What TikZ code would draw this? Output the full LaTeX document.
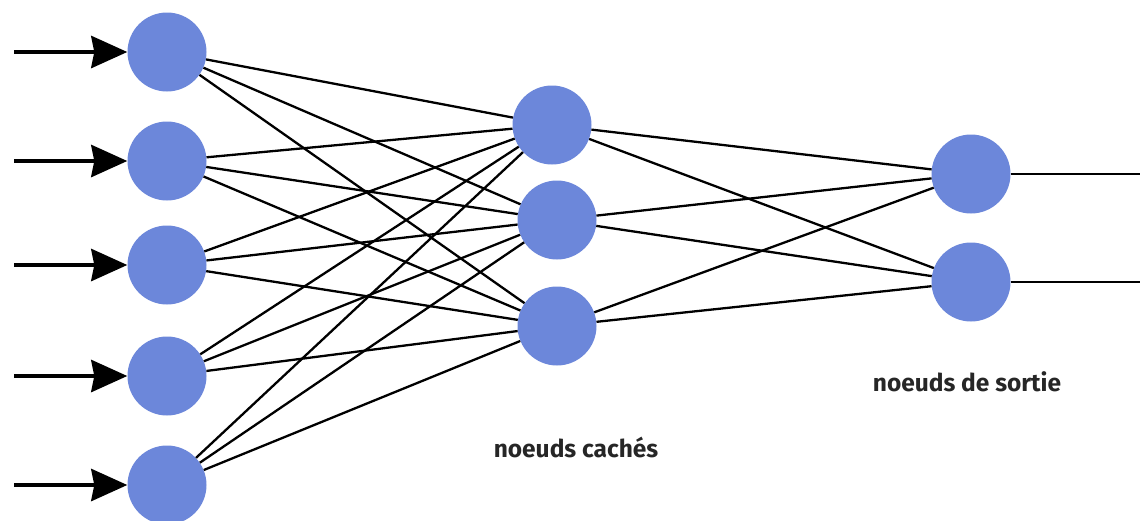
\documentclass[tikz,border=0pt]{standalone}
\usepackage{fontspec}
\setmainfont{Fira Sans}
\usetikzlibrary{arrows.meta}
\definecolor{neuron}{RGB}{108,135,218}
\tikzset{
  neuronnode/.style={circle, fill=neuron, minimum size=79pt, inner sep=0pt},
  link/.style={line width=2.3pt, black},
  inarrow/.style={line width=4.2pt, -{Stealth[length=36pt,width=32pt,inset=3pt]}},
  caption/.style={font=\bfseries\fontsize{24.5}{28}\selectfont, text=black!85}
}
\begin{document}
\begin{tikzpicture}[x=1pt,y=-1pt]
\path[use as bounding box] (0,0) rectangle (1146,520);
% input layer
\node[neuronnode] (i1) at (167,52) {};
\node[neuronnode] (i2) at (167,161) {};
\node[neuronnode] (i3) at (167,265) {};
\node[neuronnode] (i4) at (167,376) {};
\node[neuronnode] (i5) at (167,485) {};
% hidden layer
\node[neuronnode] (h1) at (552,125) {};
\node[neuronnode] (h2) at (557,220) {};
\node[neuronnode] (h3) at (557,326) {};
% output layer
\node[neuronnode] (o1) at (971,174) {};
\node[neuronnode] (o2) at (971,282) {};
% connections
\foreach \i in {1,...,5}
  \foreach \h in {1,2,3}
    \draw[link] (i\i) -- (h\h);
\foreach \h in {1,2,3}
  \foreach \o in {1,2}
    \draw[link] (h\h) -- (o\o);
% inputs
\foreach \i in {1,...,5} {
  \coordinate (s\i) at ([xshift=-113pt]i\i.west);
  \draw[inarrow] (s\i) -- (i\i.west);
}
% outputs
\coordinate (e1) at (1140,174);
\coordinate (e2) at (1140,282);
\draw[link] (o1.east) -- (e1);
\draw[link] (o2.east) -- (e2);
% labels
\node[caption] (lh) at (576,447) {noeuds cachés};
\node[caption] (lo) at (967,382) {noeuds de sortie};
\end{tikzpicture}
\end{document}
